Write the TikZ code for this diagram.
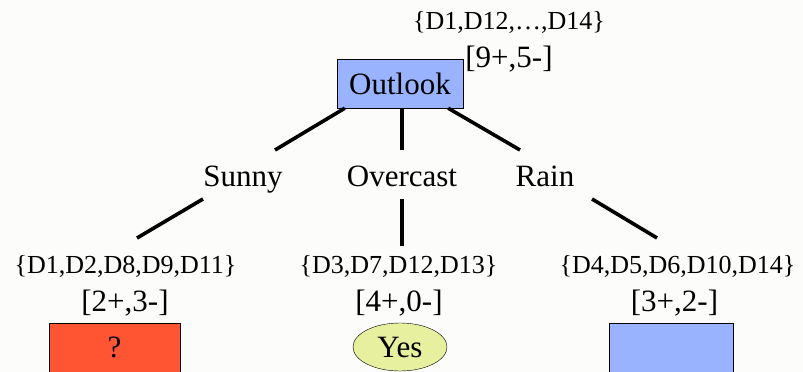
\documentclass[tikz,border=0pt]{standalone}
\usepackage{fontspec}
\setmainfont{Liberation Serif}
\usetikzlibrary{positioning, shapes.geometric}

\definecolor{attrblue}{RGB}{153,179,255}
\definecolor{leafred}{RGB}{255,85,51}
\definecolor{leafyes}{RGB}{230,240,158}
\definecolor{paper}{RGB}{252,252,250}

\begin{document}
\begin{tikzpicture}[
  x=1pt, y=-1pt,
  big/.style={font=\fontsize{31}{36}\selectfont, inner sep=0pt},
  small/.style={font=\fontsize{26}{30}\selectfont, inner sep=0pt},
  box/.style={rectangle, draw, thin, big, minimum height=49},
  yesleaf/.style={ellipse, draw, thin, big, fill=leafyes, minimum width=94, minimum height=48},
  branch/.style={line width=3.6pt}
]
  \fill[paper] (0,0) rectangle (803,372);
  \useasboundingbox (0,0) rectangle (803,372);

  \node[small, anchor=base] (rootset) at (509,29) {\{D1,D12,…,D14\}};
  \node[big, anchor=base] (rootcount) at (509,67) {[9+,5-]};
  \node[box, fill=attrblue, minimum width=126] (outlook) at (400,83.5) {Outlook};

  \node[big, anchor=base] (sunny) at (243,186) {Sunny};
  \node[big, anchor=base] (overcast) at (402,186) {Overcast};
  \node[big, anchor=base] (rain) at (545,186) {Rain};

  \node[small, anchor=base] (sunnyset) at (125.5,273) {\{D1,D2,D8,D9,D11\}};
  \node[big, anchor=base] (sunnycount) at (125,311) {[2+,3-]};
  \node[box, fill=leafred, minimum width=131] (sunnyleaf) at (114.5,347.5) {?};

  \node[small, anchor=base] (overcastset) at (398.5,273) {\{D3,D7,D12,D13\}};
  \node[big, anchor=base] (overcastcount) at (399,311) {[4+,0-]};
  \node[yesleaf] (overcastleaf) at (400,347) {Yes};

  \node[small, anchor=base] (rainset) at (677.5,273) {\{D4,D5,D6,D10,D14\}};
  \node[big, anchor=base] (raincount) at (674.5,311) {[3+,2-]};
  \node[box, fill=attrblue, minimum width=124] (rainleaf) at (671,347.5) {};

  \coordinate (sunny-up) at (275,150);
  \coordinate (sunny-down) at (203,199);
  \coordinate (sunny-end) at (137,238);
  \coordinate (overcast-up) at (402,150);
  \coordinate (overcast-down) at (402,199);
  \coordinate (overcast-end) at (402,246);
  \coordinate (rain-up) at (520,150);
  \coordinate (rain-down) at (592,199);
  \coordinate (rain-end) at (657,238);

  \draw[branch] ([xshift=8]outlook.south west) -- (sunny-up);
  \draw[branch] ([xshift=2]outlook.south) -- (overcast-up);
  \draw[branch] ([xshift=-15]outlook.south east) -- (rain-up);
  \draw[branch] (sunny-down) -- (sunny-end);
  \draw[branch] (overcast-down) -- (overcast-end);
  \draw[branch] (rain-down) -- (rain-end);
\end{tikzpicture}
\end{document}
